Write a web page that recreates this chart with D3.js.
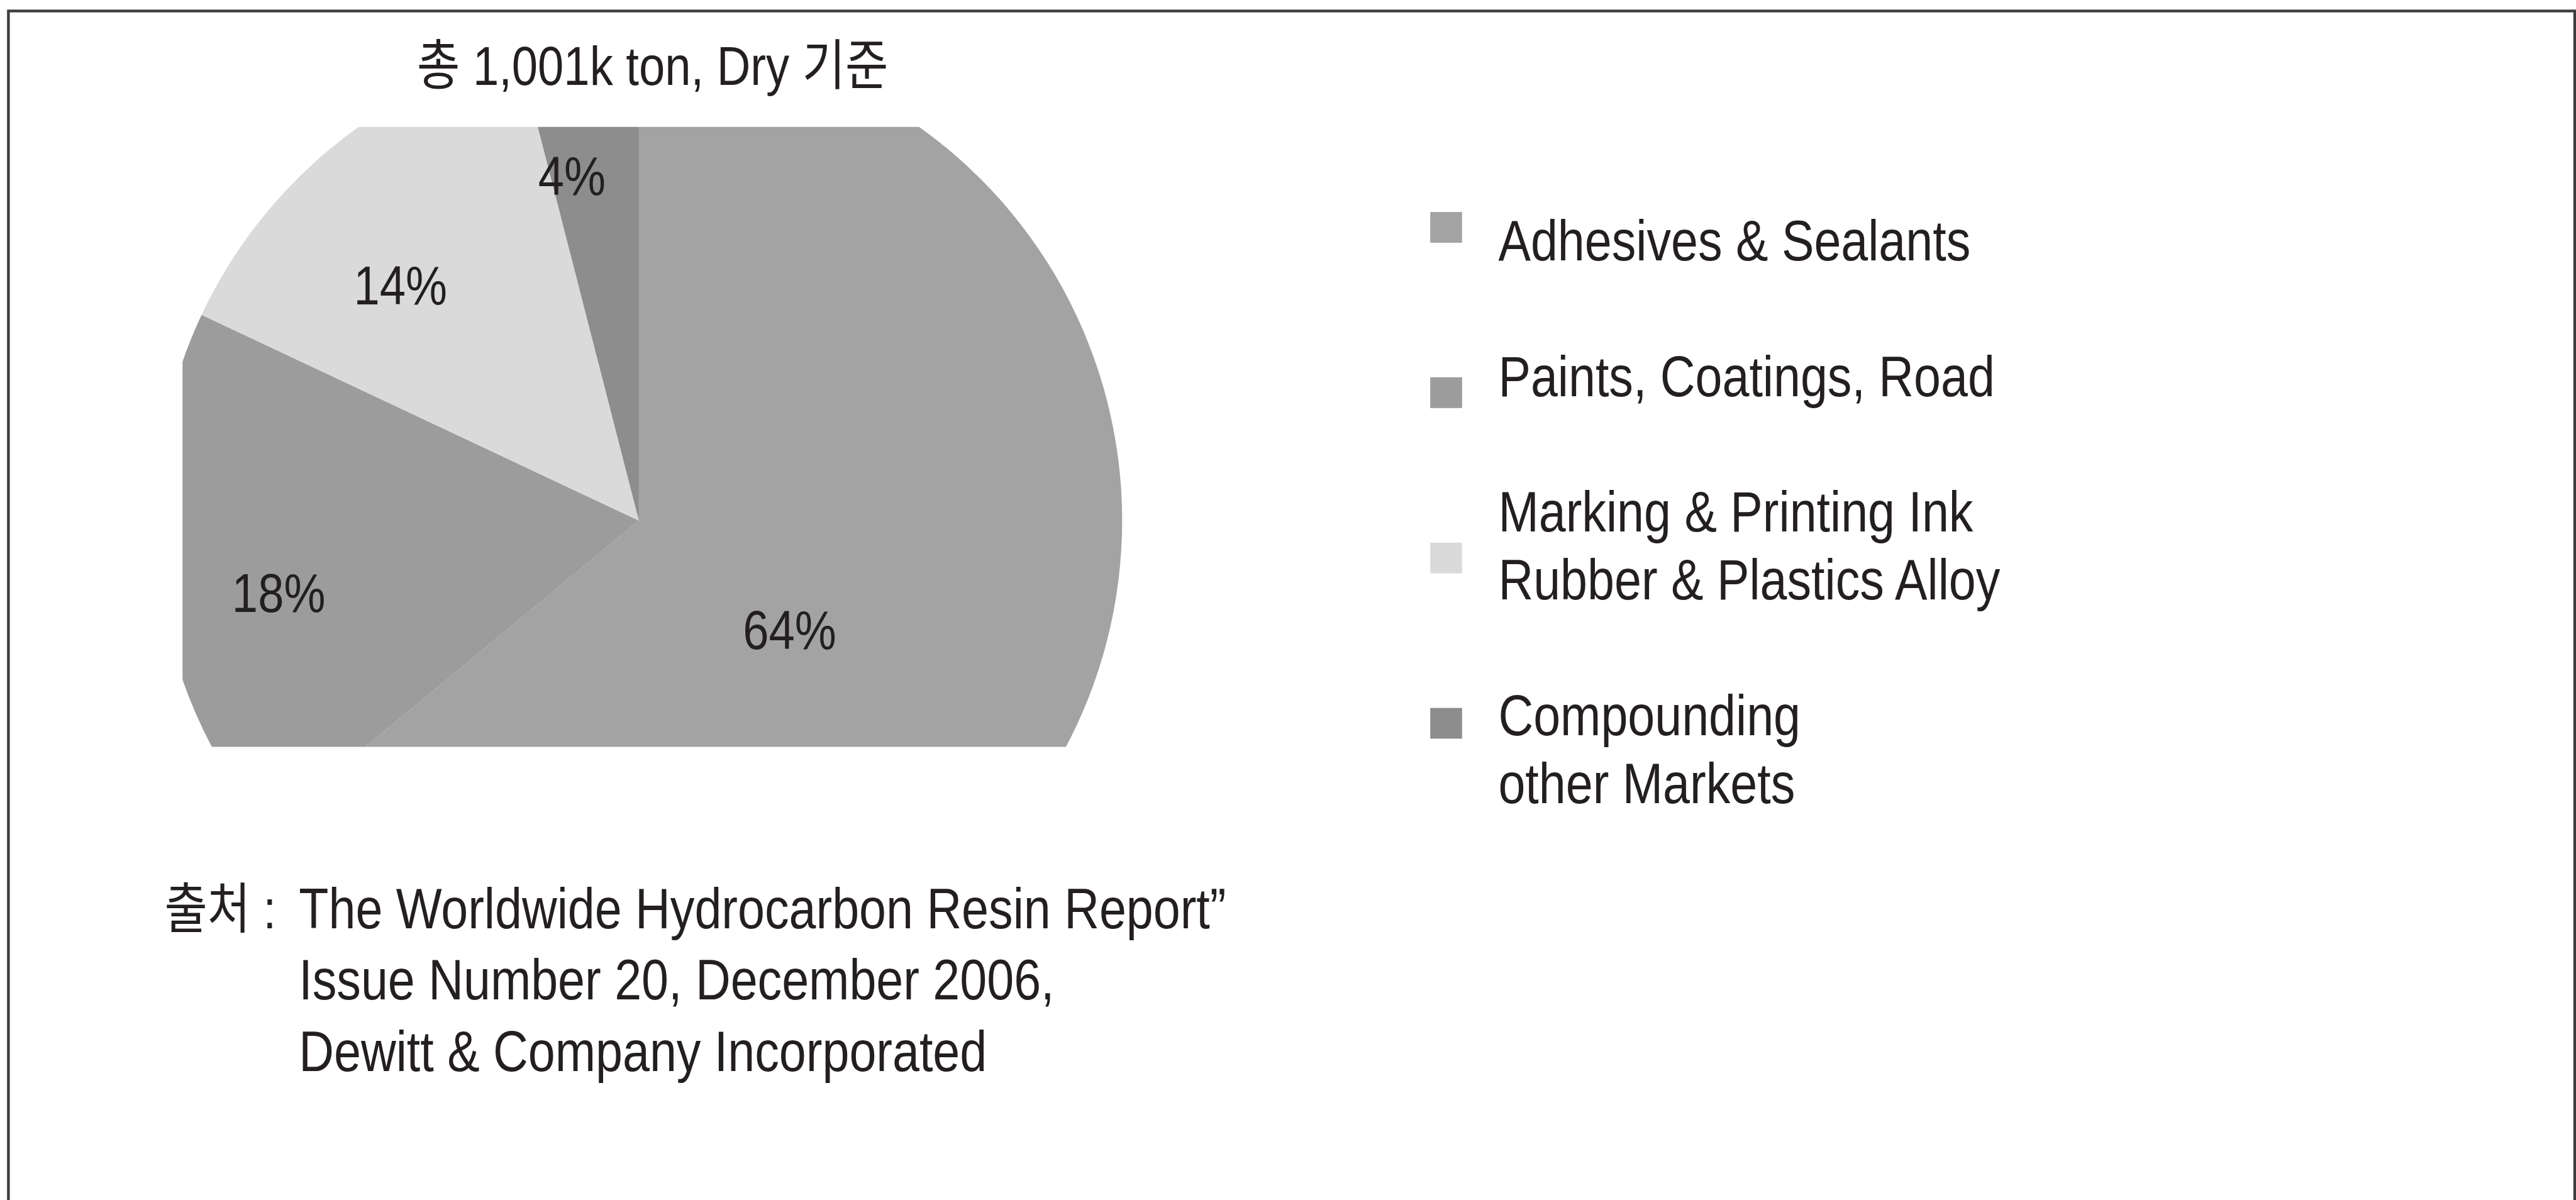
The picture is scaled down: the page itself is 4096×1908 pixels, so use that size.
<!DOCTYPE html>
<meta charset="utf-8">
<style>
body { margin: 0; background: #fff; }
svg { display: block; }
text { font-family: 'Liberation Sans', Arial, 'Noto Sans CJK KR', sans-serif; fill: #231f20; white-space: pre; }
</style>
<body>
    <svg id="chart" width="4096" height="1908" viewBox="0 0 4690 2185"></svg>
</body>
<script src="https://d3js.org/d3.v7.min.js"></script>
<script>
// 데이터
const categories = ["Adhesives & Sealants", "Paints, Coatings, Road", "Marking & Printing Ink / Rubber & Plastics Alloy", "Compounding / other Markets"];
const shares = [64, 18, 14, 4];
const legendLines = [
    ["Adhesives & Sealants"],
    ["Paints, Coatings, Road"],
    ["Marking & Printing Ink", "Rubber & Plastics Alloy"],
    ["Compounding", "other Markets"]
];
const titleText = "총 1,001k ton, Dry 기준";
const sourceHead = "출처 :";
const sourceLines = [
    "The Worldwide Hydrocarbon Resin Report\u201D",
    "Issue Number 20, December 2006,",
    "Dewitt & Company Incorporated"
];

// 좁은 글꼴 흉내 (가로 축소)
const narrow = 0.85;
const place = (x, y) => `translate(${x}, ${y}) scale(${narrow}, 1)`;

const svg = d3.select('#chart');

// 테두리
svg.append('rect')
    .attr('x', 15).attr('y', 20)
    .attr('width', 4673).attr('height', 2172)
    .attr('fill', 'none')
    .attr('stroke', '#3c3c3c')
    .attr('stroke-width', 5);

// 제목
svg.append('text')
    .attr('transform', place(1188, 155))
    .attr('text-anchor', 'middle')
    .attr('font-size', 100)
    .text(titleText);

// pie
const cx = 1163, cy = 948, radius = 880;
const colorData = d3.scaleOrdinal()
    .domain(categories)
    .range(['#a3a3a3', '#9c9c9c', '#dadada', '#8d8d8d']);

const pie = d3.pie().value(d => d).sort(null);
const arc = d3.arc().innerRadius(0).outerRadius(radius);
const arcs = pie(shares);

svg.append('clipPath').attr('id', 'pieClip')
    .append('rect')
    .attr('x', 332).attr('y', 231)
    .attr('width', 1800).attr('height', 1129);

const g = svg.append('g')
    .attr('clip-path', 'url(#pieClip)')
    .append('g')
    .attr('transform', `translate(${cx}, ${cy})`);

g.selectAll('path')
    .data(arcs)
    .enter().append('path')
    .attr('fill', (d, i) => colorData(categories[i]))
    .attr('d', arc);

// 라벨: 큰 조각은 안쪽, 작은 조각은 바깥쪽 (라벨 기준점은 원 중심에서 약간 왼쪽 아래)
const labelOrigin = [cx - 36, cy + 52];
const labelPos = d => {
    const span = d.endAngle - d.startAngle;
    const rr = span > Math.PI ? radius * 0.39 : span < 0.5 ? radius * 0.78 : radius * 0.71;
    return d3.arc().innerRadius(rr).outerRadius(rr).centroid(d);
};

svg.append('g')
    .selectAll('text')
    .data(arcs)
    .enter().append('text')
    .attr('transform', d => {
        const [x, y] = labelPos(d);
        return place(labelOrigin[0] + x, labelOrigin[1] + y + 36);
    })
    .attr('text-anchor', 'middle')
    .attr('font-size', 100)
    .text(d => `${d.data}%`);

// 범례
const legendY = d3.scalePoint().domain(categories).range([414, 1317]);
const legend = svg.append('g');

legend.selectAll('rect')
    .data(categories)
    .enter().append('rect')
    .attr('x', 2604)
    .attr('y', d => legendY(d) - 28)
    .attr('width', 58).attr('height', 56)
    .attr('fill', d => colorData(d));

// 줄 단위 배치 (항목 사이 한 줄 띄움)
const lineY = d3.scaleLinear().domain([0, 1]).range([474, 597.5]);
let lineNo = 0;
const legendRows = [];
legendLines.forEach(lines => {
    lines.forEach(t => legendRows.push({ text: t, line: lineNo++ }));
    lineNo++;
});

legend.selectAll('text')
    .data(legendRows)
    .enter().append('text')
    .attr('transform', d => place(2728, lineY(d.line)))
    .attr('font-size', 104)
    .text(d => d.text);

// 출처
const srcY = d3.scaleLinear().domain([0, 1]).range([1690, 1820]);
svg.append('text')
    .attr('transform', place(299, srcY(0)))
    .attr('font-size', 100)
    .text(sourceHead);

svg.append('g').selectAll('text')
    .data(sourceLines)
    .enter().append('text')
    .attr('transform', (d, i) => place(544, srcY(i)))
    .attr('font-size', 104)
    .text(d => d);
</script>
